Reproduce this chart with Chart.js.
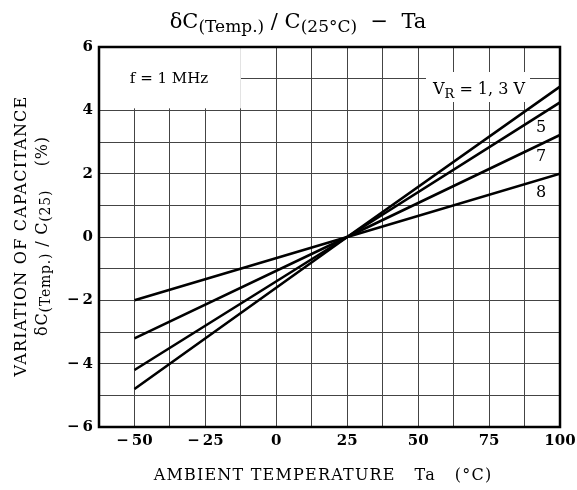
<!DOCTYPE html>
<html><head><meta charset="utf-8">
<script src="https://cdn.jsdelivr.net/npm/chart.js@4/dist/chart.umd.min.js"></script>
<style>html,body{margin:0;padding:0;background:#fff}#wrap{width:577px;height:490px}</style>
</head><body><div id="wrap"><canvas id="c" width="577" height="490"></canvas></div>
<script>
const temps = [-50, 25, 100];
const vr13 = [-4.8, 0, 4.75];
const vr5 = [-4.2, 0, 4.25];
const vr7 = [-3.2, 0, 3.22];
const vr8 = [-2.0, 0, 2.0];
const seriesNames = ['VR = 1, 3 V', '5', '7', '8'];
const xTickLabels = [-50, -25, 0, 25, 50, 75, 100];
const yTickLabels = [-6, -4, -2, 0, 2, 4, 6];

const SERIF = '"DejaVu Serif", serif';
function fmt(v){ return v < 0 ? '\u2212\u2009' + Math.abs(v) : String(v); }

function drawRich(ctx, parts, x, y, align, spacing){
  ctx.letterSpacing = (spacing||0) + 'px';
  let w = 0;
  parts.forEach(p => { ctx.font = p.font; w += ctx.measureText(p.t).width; });
  let cx = align === 'center' ? x - w/2 : (align === 'right' ? x - w : x);
  ctx.textAlign = 'left';
  ctx.textBaseline = 'alphabetic';
  parts.forEach(p => { ctx.font = p.font; ctx.fillText(p.t, cx, y + (p.dy||0)); cx += ctx.measureText(p.t).width; });
  ctx.letterSpacing = '0px';
}

const decor = {
  id: 'decor',
  beforeDatasetsDraw(chart){
    const {ctx, scales:{x, y}} = chart;
    ctx.save();
    ctx.fillStyle = '#fff';
    ctx.fillRect(x.getPixelForValue(-62.5)+1, y.getPixelForValue(6)+1, x.getPixelForValue(-12.5)-x.getPixelForValue(-62.5)-1, y.getPixelForValue(4)-y.getPixelForValue(6)-3);
    ctx.fillRect(426, 72, 104, 30);
    ctx.fillRect(531, 115, 20, 22);
    ctx.fillRect(531, 145, 20, 22);
    ctx.fillRect(531, 181, 20, 22);
    ctx.restore();
  },
  afterDatasetsDraw(chart){
    const {ctx, chartArea:a} = chart;
    ctx.save();
    ctx.strokeStyle = '#000';
    ctx.lineWidth = 2.5;
    ctx.strokeRect(a.left, a.top, a.right - a.left, a.bottom - a.top);
    ctx.fillStyle = '#000';
    const big = '21px ' + SERIF, sub = '17px ' + SERIF;
    drawRich(ctx, [
      {t:'\u03B4C', font:big}, {t:'(Temp.)', font:sub, dy:4},
      {t:' / C', font:big}, {t:'(25\u00B0C)', font:sub, dy:4},
      {t:'  \u2212  Ta', font:big}
    ], 298, 28, 'center');
    ctx.font = '15px ' + SERIF;
    ctx.textAlign = 'center'; ctx.textBaseline = 'middle';
    ctx.fillText('f = 1 MHz', 169, 79);
    drawRich(ctx, [
      {t:'V', font:'16px '+SERIF}, {t:'R', font:'13px '+SERIF, dy:4},
      {t:' = 1, 3 V', font:'16px '+SERIF}
    ], 479, 94, 'center');
    ctx.font = '16px ' + SERIF;
    ctx.textAlign = 'center'; ctx.textBaseline = 'middle';
    ctx.fillText(seriesNames[1], 541, 128);
    ctx.fillText(seriesNames[2], 541, 157);
    ctx.fillText(seriesNames[3], 541, 193);
    ctx.font = '16px ' + SERIF;
    ctx.letterSpacing = '1.2px';
    ctx.fillText('AMBIENT TEMPERATURE   Ta   (\u00B0C)', 323, 476);
    ctx.save();
    ctx.translate(22, 236);
    ctx.rotate(-Math.PI/2);
    ctx.font = '16px ' + SERIF;
    ctx.textAlign = 'center'; ctx.textBaseline = 'middle';
    ctx.fillText('VARIATION OF CAPACITANCE', 0, 0);
    ctx.restore();
    ctx.letterSpacing = '0px';
    ctx.save();
    ctx.translate(42, 236);
    ctx.rotate(-Math.PI/2);
    drawRich(ctx, [
      {t:'\u03B4C', font:'16px '+SERIF}, {t:'(Temp.)', font:'14px '+SERIF, dy:3},
      {t:' / C', font:'16px '+SERIF}, {t:'(25)', font:'14px '+SERIF, dy:3},
      {t:'    (%)', font:'16px '+SERIF}
    ], 0, 5, 'center', 0.8);
    ctx.restore();
    ctx.restore();
  }
};

const mk = (d) => ({ data: temps.map((t,i)=>({x:t, y:d[i]})), borderColor:'#000', borderWidth:2.6, pointRadius:0, fill:false, tension:0 });

new Chart(document.getElementById('c'), {
  type: 'line',
  data: { datasets: [mk(vr13), mk(vr5), mk(vr7), mk(vr8)] },
  options: {
    responsive:false, animation:false,
    layout:{ padding:{ left:0, right:17, top:47, bottom:0 } },
    plugins:{ legend:{display:false}, tooltip:{enabled:false}, title:{display:false} },
    scales:{
      x:{ type:'linear', min:-62.5, max:100,
        afterFit(s){ s.height = 63; s.paddingLeft = 0; s.paddingRight = 0; },
        afterBuildTicks(s){ const t=[]; for(let v=-62.5; v<=100; v+=12.5) t.push({value:v}); s.ticks=t; },
        ticks:{ autoSkip:false, maxRotation:0, padding:5, color:'#000', font:{family:SERIF, size:15, weight:'bold'},
          callback:(v)=> xTickLabels.includes(v) ? fmt(v) : '' },
        grid:{ color:'#444', lineWidth:1, drawTicks:false },
        border:{ display:false }
      },
      y:{ type:'linear', min:-6, max:6,
        afterFit(s){ s.width = 99; s.paddingTop = 0; s.paddingBottom = 0; },
        afterBuildTicks(s){ const t=[]; for(let v=-6; v<=6; v++) t.push({value:v}); s.ticks=t; },
        ticks:{ autoSkip:false, padding:6, color:'#000', font:{family:SERIF, size:15, weight:'bold'},
          callback:(v)=> yTickLabels.includes(v) ? fmt(v) : '' },
        grid:{ color:'#444', lineWidth:1, drawTicks:false },
        border:{ display:false }
      }
    }
  },
  plugins:[decor]
});
</script></body></html>
